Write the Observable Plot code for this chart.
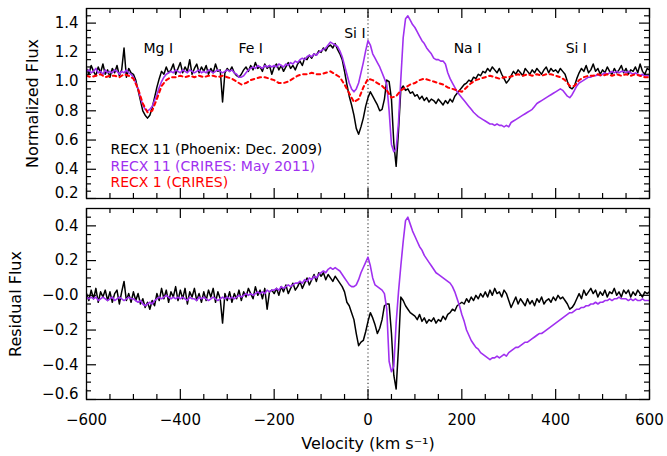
<!DOCTYPE html>
<html><head><meta charset="utf-8">
<script src="https://cdn.jsdelivr.net/npm/d3@7"></script>
<script src="https://cdn.jsdelivr.net/npm/@observablehq/plot@0.6"></script>
<style>
body{margin:0;background:#fff;}
#chart svg{display:block;}
</style></head><body><div id="chart"></div>
<script>
// ---------- DATA ----------
// velocity grids (km/s)
const velFine = d3.range(-600, 601, 5);    // 241 samples
const velCoarse = d3.range(-600, 601, 10); // 121 samples

// RECX 11 (Phoenix: Dec. 2009) normalized flux, 5 km/s steps
const fluxPhoenix = [
1.09,1.05,1.11,1.07,1.04,1.10,1.06,1.12,1.05,1.08,
1.03,1.09,1.06,1.11,1.04,1.08,1.23,1.03,1.09,1.06,
1.05,1.01,0.94,0.87,0.80,0.77,0.75,0.77,0.82,0.89,
0.96,1.02,1.07,1.05,1.10,1.06,1.08,1.12,1.05,1.09,
1.13,1.06,1.10,1.07,1.15,1.05,1.09,1.12,1.06,1.10,
1.07,1.11,1.05,1.09,1.06,1.12,1.07,1.08,0.86,1.06,
1.09,1.07,1.10,1.06,1.04,1.03,1.05,1.08,1.10,1.07,
1.11,1.08,1.13,1.09,1.10,1.07,1.12,1.09,1.11,1.05,
1.10,1.12,1.08,1.11,1.07,1.10,1.13,1.09,1.11,1.08,
1.12,1.14,1.11,1.16,1.15,1.18,1.16,1.19,1.18,1.21,
1.20,1.23,1.21,1.24,1.25,1.23,1.26,1.22,1.19,1.15,
1.07,0.98,0.90,0.84,0.77,0.68,0.64,0.69,0.75,0.83,
0.89,0.93,0.90,0.87,0.84,0.80,0.81,0.88,1.01,1.00,
0.88,0.58,0.42,0.66,0.95,0.97,0.94,0.95,0.92,0.93,
0.90,0.91,0.88,0.90,0.87,0.89,0.86,0.88,0.87,0.85,
0.88,0.86,0.84,0.87,0.85,0.88,0.86,0.90,0.92,0.94,
0.96,0.98,0.99,1.01,1.00,1.03,1.02,1.05,1.04,1.07,
1.06,1.09,1.07,1.10,1.08,1.06,1.09,1.05,1.02,0.99,
1.01,1.04,1.07,1.05,1.08,1.06,1.04,1.09,1.07,1.05,
1.08,1.06,1.09,1.07,1.05,1.08,1.10,1.06,1.09,1.07,
1.08,1.06,1.09,1.07,1.05,1.00,0.96,0.95,0.97,1.02,
1.06,1.09,1.07,1.11,1.06,1.08,1.12,1.07,1.09,1.05,
1.08,1.06,1.10,1.07,1.05,1.09,1.06,1.08,1.11,1.06,
1.09,1.05,1.08,1.07,1.10,1.06,1.12,1.07,1.05,1.09,
1.08];

// RECX 11 (CRIRES: May 2011) normalized flux, 5 km/s steps
const fluxCrires = [
1.07,1.08,1.06,1.07,1.09,1.06,1.07,1.05,1.08,1.06,
1.07,1.06,1.08,1.07,1.05,1.07,1.06,1.08,1.06,1.05,
1.03,0.99,0.95,0.89,0.84,0.81,0.80,0.81,0.83,0.87,
0.91,0.96,1.00,1.03,1.05,1.06,1.07,1.06,1.08,1.07,
1.06,1.08,1.07,1.06,1.08,1.07,1.06,1.07,1.08,1.06,
1.07,1.06,1.08,1.07,1.06,1.07,1.08,1.07,1.06,1.07,
1.08,1.07,1.08,1.06,1.05,1.03,1.03,1.04,1.06,1.08,
1.09,1.10,1.09,1.11,1.10,1.09,1.11,1.10,1.11,1.10,
1.11,1.10,1.12,1.11,1.10,1.12,1.11,1.13,1.12,1.14,
1.13,1.15,1.16,1.15,1.17,1.18,1.17,1.19,1.18,1.20,
1.21,1.22,1.23,1.25,1.27,1.26,1.25,1.24,1.21,1.17,
1.11,1.05,0.99,0.95,0.93,0.95,0.99,1.06,1.13,1.21,
1.28,1.25,1.19,1.16,1.13,1.10,1.06,1.02,0.98,0.80,
0.57,0.52,0.54,0.72,1.02,1.30,1.43,1.45,1.42,1.39,
1.37,1.34,1.31,1.28,1.26,1.23,1.21,1.19,1.16,1.15,
1.15,1.14,1.14,1.12,1.06,1.02,0.99,0.96,0.93,0.91,
0.89,0.87,0.85,0.83,0.81,0.79,0.775,0.76,0.75,0.74,
0.73,0.72,0.71,0.71,0.70,0.71,0.70,0.70,0.69,0.70,
0.69,0.72,0.73,0.74,0.75,0.76,0.77,0.78,0.79,0.80,
0.81,0.83,0.85,0.86,0.87,0.88,0.89,0.90,0.91,0.92,
0.93,0.94,0.95,0.94,0.92,0.90,0.89,0.91,0.94,0.97,
0.99,1.00,1.01,1.02,1.03,1.03,1.04,1.04,1.05,1.04,
1.05,1.06,1.05,1.06,1.07,1.06,1.07,1.06,1.07,1.07,
1.06,1.07,1.06,1.05,1.06,1.05,1.04,1.05,1.04,1.04,
1.04];

// RECX 1 (CRIRES) normalized flux, 10 km/s steps
const fluxRecx1 = [
1.04,1.03,1.04,1.05,1.03,1.04,1.04,1.03,1.05,1.04,
1.02,0.95,0.85,0.79,0.80,0.88,0.97,1.01,1.03,1.03,
1.04,1.03,1.04,1.03,1.04,1.03,1.04,1.04,1.03,1.04,
1.03,1.02,1.00,0.98,0.99,1.01,1.02,1.03,1.03,1.02,
1.01,0.99,0.99,1.00,1.02,1.04,1.05,1.05,1.06,1.05,
1.05,1.06,1.07,1.05,1.03,0.98,0.92,0.86,0.88,0.96,
1.02,1.01,0.99,0.97,0.94,0.89,0.90,0.94,0.96,0.98,
0.99,1.01,1.02,1.01,1.00,0.99,0.98,0.96,0.95,0.94,
0.93,0.96,0.99,1.01,1.02,1.03,1.04,1.03,1.02,1.03,
1.03,1.04,1.05,1.04,1.05,1.04,1.05,1.04,1.05,1.05,
1.04,1.03,1.01,0.97,0.97,1.01,1.03,1.04,1.04,1.05,
1.04,1.05,1.04,1.05,1.04,1.05,1.04,1.05,1.04,1.03,
1.03];

// Residual flux, RECX 11 Phoenix, 5 km/s steps
const residPhoenix = [
0.01,-0.03,0.03,-0.02,0.04,-0.04,0.02,-0.01,0.03,-0.03,
0.02,-0.04,0.01,0.03,-0.05,0.02,0.08,-0.03,0.01,-0.04,
0.02,-0.03,0.01,-0.05,-0.02,-0.07,-0.04,-0.08,-0.03,-0.06,
0.01,-0.03,0.04,-0.02,0.03,-0.04,0.02,-0.01,0.05,-0.03,
0.03,-0.02,0.04,-0.05,0.02,-0.01,0.04,-0.03,0.01,-0.04,
0.02,-0.03,0.03,-0.01,0.04,-0.04,0.02,-0.02,-0.16,0.01,
-0.03,0.02,-0.04,0.01,-0.02,0.03,-0.03,0.02,-0.01,0.04,
0.01,-0.02,0.05,0.00,0.03,-0.02,0.04,-0.08,0.02,0.03,
0.01,0.04,0.00,0.05,0.02,0.06,0.01,0.04,0.07,0.03,
0.05,0.08,0.04,0.07,0.10,0.06,0.09,0.12,0.08,0.13,
0.11,0.13,0.09,0.12,0.10,0.08,0.11,0.09,0.07,0.05,
0.02,-0.04,-0.06,-0.10,-0.14,-0.22,-0.29,-0.27,-0.26,-0.21,
-0.15,-0.10,-0.13,-0.17,-0.22,-0.19,-0.14,-0.06,-0.05,-0.05,
-0.22,-0.46,-0.54,-0.30,-0.01,-0.03,-0.06,-0.08,-0.10,-0.11,
-0.12,-0.14,-0.11,-0.15,-0.13,-0.16,-0.14,-0.15,-0.13,-0.16,
-0.14,-0.15,-0.12,-0.14,-0.11,-0.10,-0.08,-0.09,-0.06,-0.05,
-0.04,-0.05,-0.02,-0.04,-0.01,-0.03,0.00,-0.02,0.01,-0.01,
0.02,-0.01,0.03,0.00,0.04,0.01,0.02,-0.01,0.03,0.01,
-0.03,-0.07,-0.04,-0.01,-0.05,-0.02,-0.04,-0.06,-0.02,-0.05,
-0.03,-0.06,-0.02,-0.04,-0.01,-0.05,-0.03,-0.02,-0.04,-0.01,
-0.03,0.00,-0.02,-0.01,-0.03,-0.05,-0.08,-0.07,-0.05,-0.02,
0.01,-0.02,0.03,0.00,0.02,0.04,0.01,0.03,-0.01,0.02,
0.00,0.03,-0.01,0.02,0.01,0.04,0.00,0.02,-0.01,0.03,
0.01,0.03,-0.01,0.02,0.00,0.03,0.01,-0.01,0.02,0.01,
0.02];

// Residual flux, RECX 11 CRIRES, 5 km/s steps
const residCrires = [
-0.01,-0.02,-0.01,-0.02,-0.01,-0.03,-0.02,-0.01,-0.02,-0.03,
-0.02,-0.01,-0.03,-0.02,-0.01,-0.02,-0.03,-0.02,-0.01,-0.02,
-0.02,-0.03,-0.04,-0.03,-0.05,-0.06,-0.05,-0.04,-0.05,-0.03,
-0.02,-0.01,-0.02,-0.01,0.00,-0.01,-0.02,-0.01,-0.02,-0.01,
-0.02,-0.01,-0.02,-0.03,-0.01,-0.02,-0.02,-0.03,-0.01,-0.02,
-0.01,-0.02,-0.03,-0.02,-0.01,-0.02,-0.03,-0.02,-0.01,-0.02,
-0.01,-0.02,-0.01,-0.02,-0.01,0.00,-0.01,0.00,0.01,0.00,
0.01,0.00,0.01,0.02,0.01,0.02,0.01,0.03,0.02,0.03,
0.03,0.04,0.03,0.05,0.04,0.05,0.06,0.05,0.06,0.07,
0.07,0.08,0.07,0.09,0.08,0.10,0.09,0.11,0.10,0.12,
0.13,0.14,0.13,0.15,0.16,0.15,0.16,0.15,0.14,0.12,
0.10,0.08,0.06,0.05,0.05,0.06,0.09,0.13,0.16,0.19,
0.22,0.17,0.10,0.06,0.05,0.04,0.03,0.01,-0.08,-0.38,
-0.44,-0.41,-0.16,0.02,0.17,0.31,0.43,0.45,0.41,0.37,
0.34,0.31,0.28,0.26,0.23,0.21,0.19,0.17,0.15,0.13,
0.12,0.11,0.10,0.09,0.08,0.07,0.05,0.02,-0.02,-0.06,
-0.11,-0.15,-0.20,-0.23,-0.26,-0.28,-0.30,-0.31,-0.33,-0.34,
-0.35,-0.36,-0.37,-0.36,-0.36,-0.35,-0.36,-0.35,-0.34,-0.35,
-0.33,-0.32,-0.31,-0.30,-0.30,-0.29,-0.28,-0.27,-0.27,-0.26,
-0.25,-0.24,-0.23,-0.22,-0.22,-0.21,-0.20,-0.19,-0.18,-0.17,
-0.16,-0.15,-0.14,-0.13,-0.12,-0.11,-0.10,-0.10,-0.09,-0.08,
-0.08,-0.07,-0.07,-0.06,-0.06,-0.05,-0.05,-0.04,-0.05,-0.04,
-0.04,-0.03,-0.03,-0.02,-0.03,-0.02,-0.02,-0.01,-0.02,-0.02,
-0.02,-0.03,-0.02,-0.03,-0.02,-0.03,-0.03,-0.02,-0.03,-0.03,
-0.03];

// series names (legend)
const seriesNames = ["RECX 11 (Phoenix: Dec. 2009)", "RECX 11 (CRIRES: May 2011)", "RECX 1 (CRIRES)"];

// spectral line labels
const lineNames = ["Mg I", "Fe I", "Si I", "Na I", "Si I"];
const lineVel = [-447, -250, -28, 212, 444];
const lineFlux = [1.226, 1.226, 1.332, 1.226, 1.226];

// ticks
const xMajor = [-600, -400, -200, 0, 200, 400, 600];
const xLabels = ["\u2212600", "\u2212400", "\u2212200", "0", "200", "400", "600"];
const xMinor = [-550,-500,-450,-350,-300,-250,-150,-100,-50,50,100,150,250,300,350,450,500,550];
const topMajor = [0.2, 0.4, 0.6, 0.8, 1.0, 1.2, 1.4];
const topLabels = ["0.2", "0.4", "0.6", "0.8", "1.0", "1.2", "1.4"];
const topMinor = [0.25,0.3,0.35,0.45,0.5,0.55,0.65,0.7,0.75,0.85,0.9,0.95,1.05,1.1,1.15,1.25,1.3,1.35,1.45];
const botMajor = [-0.6, -0.4, -0.2, 0.0, 0.2, 0.4];
const botLabels = ["\u22120.6", "\u22120.4", "\u22120.2", "\u22120.0", "0.2", "0.4"];
const botMinor = [-0.55,-0.5,-0.45,-0.35,-0.3,-0.25,-0.15,-0.1,-0.05,0.05,0.1,0.15,0.25,0.3,0.35,0.45];

// ---------- tables ----------
const tPhoenix = velFine.map((v, i) => ({v, f: fluxPhoenix[i]}));
const tCrires = velFine.map((v, i) => ({v, f: fluxCrires[i]}));
const tRecx1 = velCoarse.map((v, i) => ({v, f: fluxRecx1[i]}));
const rPhoenix = velFine.map((v, i) => ({v, f: residPhoenix[i]}));
const rCrires = velFine.map((v, i) => ({v, f: residCrires[i]}));

// ---------- style ----------
const FONT = "'DejaVu Sans', sans-serif";
const PURPLE = "#A030F0";
const W = 667, ML = 86, MR = 18;
const FW = W - ML - MR;

function frameTicks(yMaj, yMin, fh) {
  const s = {stroke: "black", strokeWidth: 1.2};
  return [
    Plot.tickY(yMaj, {y: d => d, insetRight: FW - 10, ...s}),
    Plot.tickY(yMaj, {y: d => d, insetLeft: FW - 10, ...s}),
    Plot.tickY(yMin, {y: d => d, insetRight: FW - 5, ...s}),
    Plot.tickY(yMin, {y: d => d, insetLeft: FW - 5, ...s}),
    Plot.tickX(xMajor, {x: d => d, insetTop: fh - 10, ...s}),
    Plot.tickX(xMajor, {x: d => d, insetBottom: fh - 10, ...s}),
    Plot.tickX(xMinor, {x: d => d, insetTop: fh - 5, ...s}),
    Plot.tickX(xMinor, {x: d => d, insetBottom: fh - 5, ...s})
  ];
}

const dotted = Plot.ruleX([0], {stroke: "#444", strokeWidth: 1.2, strokeDasharray: "1.2,2.6"});

// ---------- top panel ----------
const topH = 203, topMT = 8, topMB = 5;
const topPlot = Plot.plot({
  width: W, height: topH, marginLeft: ML, marginRight: MR, marginTop: topMT, marginBottom: topMB,
  style: {fontFamily: FONT, background: "white", overflow: "visible"},
  x: {domain: [-600, 600], axis: null},
  y: {domain: [0.2, 1.5], axis: null},
  marks: [
    dotted,
    Plot.line(tPhoenix, {x: "v", y: "f", stroke: "black", strokeWidth: 1.5, clip: true}),
    Plot.line(tCrires, {x: "v", y: "f", stroke: PURPLE, strokeWidth: 1.6, clip: true}),
    Plot.line(tRecx1, {x: "v", y: "f", stroke: "#ff0000", strokeWidth: 2, strokeDasharray: "3.5,3.5", clip: true}),
    ...frameTicks(topMajor, topMinor, topH - topMT - topMB),
    Plot.frame({stroke: "black", strokeWidth: 1.3}),
    Plot.text(topMajor.slice(1), {y: d => d, text: (d, i) => topLabels[i + 1], frameAnchor: "left", textAnchor: "end", lineAnchor: "middle", dx: -8, fontSize: 15, fill: "black"}),
    Plot.text(topMajor.slice(0, 1), {y: d => d, text: (d, i) => topLabels[i], frameAnchor: "left", textAnchor: "end", lineAnchor: "middle", dx: -8, dy: -5, fontSize: 15, fill: "black"}),
    Plot.text(["Normalized Flux"], {frameAnchor: "left", textAnchor: "middle", lineAnchor: "middle", rotate: -90, dx: -54, fontSize: 16, fill: "black"}),
    Plot.text(lineNames, {x: (d, i) => lineVel[i], y: (d, i) => lineFlux[i], text: d => d, textAnchor: "middle", lineAnchor: "middle", fontSize: 14, fill: "black"}),
    Plot.text([seriesNames[0]], {x: -549, y: 0.535, text: d => d, textAnchor: "start", lineAnchor: "middle", fontSize: 14, fill: "black"}),
    Plot.text([seriesNames[1]], {x: -549, y: 0.421, text: d => d, textAnchor: "start", lineAnchor: "middle", fontSize: 14, fill: PURPLE}),
    Plot.text([seriesNames[2]], {x: -549, y: 0.308, text: d => d, textAnchor: "start", lineAnchor: "middle", fontSize: 14, fill: "#ff0000"})
  ]
});

// ---------- bottom panel ----------
const botH = 253, botMT = 5, botMB = 57;
const botPlot = Plot.plot({
  width: W, height: botH, marginLeft: ML, marginRight: MR, marginTop: botMT, marginBottom: botMB,
  style: {fontFamily: FONT, background: "white", overflow: "visible"},
  x: {domain: [-600, 600], axis: null},
  y: {domain: [-0.6, 0.5], axis: null},
  marks: [
    dotted,
    Plot.line(rPhoenix, {x: "v", y: "f", stroke: "black", strokeWidth: 1.5, clip: true}),
    Plot.line(rCrires, {x: "v", y: "f", stroke: PURPLE, strokeWidth: 1.6, clip: true}),
    ...frameTicks(botMajor, botMinor, botH - botMT - botMB),
    Plot.frame({stroke: "black", strokeWidth: 1.3}),
    Plot.text(botMajor.slice(1), {y: d => d, text: (d, i) => botLabels[i + 1], frameAnchor: "left", textAnchor: "end", lineAnchor: "middle", dx: -8, fontSize: 15, fill: "black"}),
    Plot.text(botMajor.slice(0, 1), {y: d => d, text: (d, i) => botLabels[i], frameAnchor: "left", textAnchor: "end", lineAnchor: "middle", dx: -8, dy: -5, fontSize: 15, fill: "black"}),
    Plot.text(xMajor, {x: d => d, text: (d, i) => xLabels[i], frameAnchor: "bottom", textAnchor: "middle", lineAnchor: "middle", dy: 21, fontSize: 15, fill: "black"}),
    Plot.text(["Residual Flux"], {frameAnchor: "left", textAnchor: "middle", lineAnchor: "middle", rotate: -90, dx: -71, fontSize: 16, fill: "black"}),
    Plot.text(["Velocity (km s\u207B\u00B9)"], {frameAnchor: "bottom", textAnchor: "middle", lineAnchor: "middle", dy: 44, fontSize: 16, fill: "black"})
  ]
});

const chart = document.getElementById("chart");
chart.appendChild(topPlot);
chart.appendChild(botPlot);
</script></body></html>
